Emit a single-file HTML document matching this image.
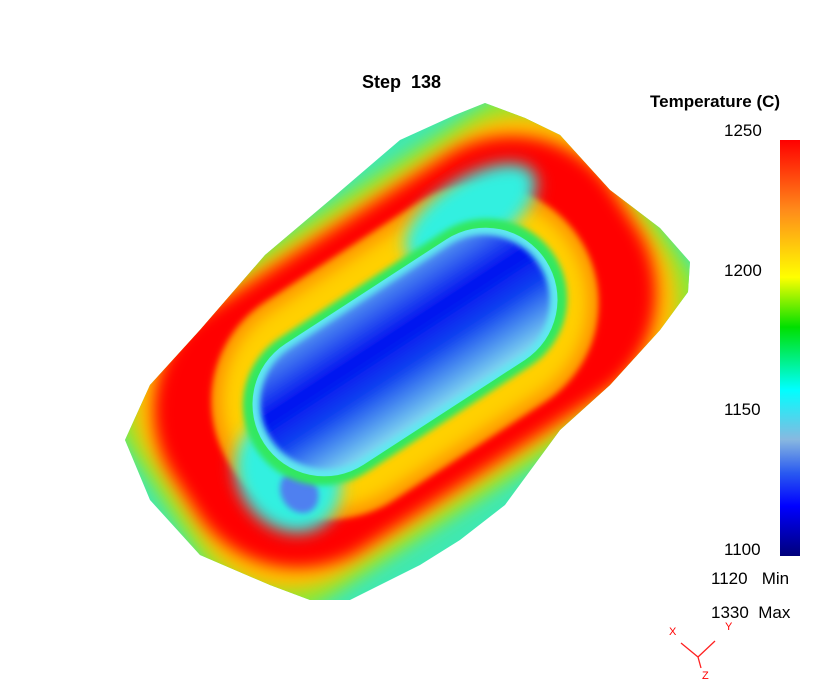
<!DOCTYPE html>
<html><head><style>
body{margin:0;background:#fff;width:821px;height:698px;overflow:hidden;font-family:"Liberation Sans",sans-serif}
.t{position:absolute;font-size:17px;color:#000;white-space:nowrap}
.b{font-weight:bold}
</style></head><body>
<svg width="821" height="698" style="position:absolute;left:0;top:0">
<defs>
<filter id="bl" x="-20%" y="-20%" width="140%" height="140%"><feGaussianBlur stdDeviation="8"/></filter>
<filter id="bs" x="-20%" y="-20%" width="140%" height="140%"><feGaussianBlur stdDeviation="3"/></filter>
<linearGradient id="cb" x1="0" y1="0" x2="0" y2="1">
<stop offset="0" stop-color="#ff0000"/><stop offset="0.17" stop-color="#ff8c1a"/><stop offset="0.33" stop-color="#ffff00"/><stop offset="0.45" stop-color="#00e000"/><stop offset="0.6" stop-color="#00ffff"/><stop offset="0.72" stop-color="#88b8e0"/><stop offset="0.8" stop-color="#2a5af0"/><stop offset="0.88" stop-color="#0000ff"/><stop offset="1" stop-color="#00007a"/>
</linearGradient>
<linearGradient id="pb" x1="0" y1="0" x2="0" y2="1">
<stop offset="0" stop-color="#5090f0"/><stop offset="0.35" stop-color="#0010f0"/><stop offset="0.6" stop-color="#1040f0"/><stop offset="1" stop-color="#80d8f0"/>
</linearGradient>
<clipPath id="oc"><polygon points="485,103 525,118 560,135 610,190 660,228 690,262 688,292 660,330 610,385 560,430 505,505 460,540 420,565 350,600 310,600 270,585 200,555 150,500 125,440 150,385 200,330 265,255 330,200 400,140 455,115"/></clipPath>
</defs>
<g clip-path="url(#oc)">
<rect x="0" y="0" width="821" height="698" fill="#40e8b0"/>
<g transform="translate(405,352) rotate(-33)">
<rect x="-285" y="-165" width="570" height="330" rx="60" fill="#90e830" filter="url(#bl)"/>
<rect x="-272" y="-152" width="544" height="304" rx="100" fill="#ffc000" filter="url(#bl)"/>
<rect x="-262" y="-142" width="524" height="284" rx="120" fill="#ff0000" filter="url(#bl)"/>
<rect x="-208" y="-118" width="416" height="236" rx="118" fill="#ff9000" filter="url(#bs)"/>
<rect x="-198" y="-108" width="396" height="216" rx="108" fill="#ffd000" filter="url(#bl)"/>
<ellipse cx="130" cy="-80" rx="75" ry="35" fill="#30f0e0" filter="url(#bl)"/>
<ellipse cx="-165" cy="40" rx="50" ry="60" fill="#30f0e0" filter="url(#bl)"/>
<ellipse cx="-165" cy="60" rx="18" ry="22" fill="#5080f0" filter="url(#bs)"/>
<rect x="-178" y="-80" width="356" height="160" rx="80" fill="#30e860" filter="url(#bs)"/>
<rect x="-168" y="-72" width="336" height="144" rx="72" fill="#60e8f0"/>
<rect x="-160" y="-66" width="320" height="132" rx="66" fill="url(#pb)" filter="url(#bs)"/>
</g>
</g>
<rect x="780" y="140" width="20" height="416" fill="url(#cb)"/>
<g stroke="#ff2020" stroke-width="1.3">
<line x1="698" y1="657" x2="681" y2="643"/><line x1="698" y1="657" x2="715" y2="641"/><line x1="698" y1="657" x2="701" y2="668"/>
</g>
<g fill="#ff0000" font-family="Liberation Sans" font-size="11">
<text x="669" y="635">X</text><text x="725" y="630">Y</text><text x="702" y="679">Z</text>
</g>
</svg>
<div class="t b" style="left:362px;top:72px;font-size:18px">Step&nbsp;&nbsp;138</div>
<div class="t b" style="left:650px;top:92px">Temperature (C)</div>
<div class="t" style="left:724px;top:121px">1250</div>
<div class="t" style="left:724px;top:261px">1200</div>
<div class="t" style="left:724px;top:400px">1150</div>
<div class="t" style="left:724px;top:540px">1100</div>
<div class="t" style="left:711px;top:569px">1120&nbsp;&nbsp;&nbsp;Min</div>
<div class="t" style="left:711px;top:603px">1330&nbsp;&nbsp;Max</div>
</body></html>
